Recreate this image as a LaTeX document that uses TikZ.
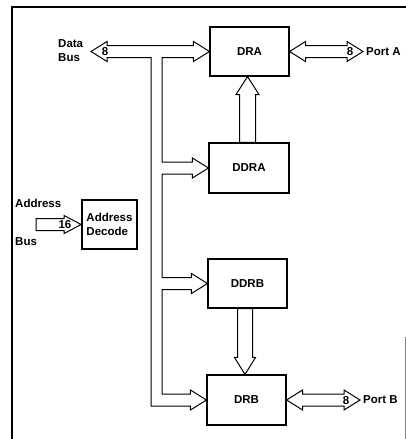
\documentclass[tikz,border=0pt]{standalone}
\usepackage{fontspec}
\setmainfont{Liberation Sans}
\usetikzlibrary{calc}
\begin{document}
\begin{tikzpicture}[x=1pt,y=-1pt,
  font=\bfseries\fontsize{11.5}{14}\selectfont,
  blk/.style={draw, line width=1.1pt, inner sep=0pt, align=center},
  bus/.style={draw, line width=1pt, line join=miter},
  lbl/.style={inner sep=0pt, anchor=west, align=left},
  num/.style={inner sep=0pt}]
\useasboundingbox (0,0) rectangle (406,439);
% frame
\draw[line width=1.4pt] (12,439) -- (12,7) -- (406,7);
\draw[gray, line width=0.6pt] (405.5,337) -- (405.5,439);

% boxes
\node[blk, minimum width=79pt, minimum height=49pt] (dra)  at (249.5,51.5) {DRA};
\node[blk, minimum width=80pt, minimum height=50pt] (ddra) at (249,168) {DDRA};
\node[blk, minimum width=79pt, minimum height=49pt] (ddrb) at (247.5,283.5) {DDRB};
\node[blk, minimum width=79pt, minimum height=50pt] (drb)  at (246.5,400) {DRB};
\node[draw, line width=1.8pt, minimum width=55pt, minimum height=49pt, inner sep=0pt, align=left] (addr) at (109.5,224.5) {Address\\Decode};

% labels
\node[lbl] (dlab) at (58,50.5) {Data\\Bus};
\node[lbl] (alab1) at (15,203) {Address};
\node[lbl] (alab2) at (15,242) {Bus};
\coordinate (pa) at (363,51.5);
\coordinate (pb) at (360,400);
\node[lbl] (porta) at ($(pa)+(3,0.5)$) {Port A};
\node[lbl] (portb) at ($(pb)+(3,0)$) {Port B};

% data bus T
\coordinate (dbus) at (91,51.5);
\coordinate (bi) at (162,0);
\coordinate (bo) at (151,0);
\draw[bus] (dbus) -- ++(16,-10) -- ++(0,4) -- ($(dra.west)+(-16,-6)$) -- ++(0,-4) -- (dra.west) -- ++(-16,10) -- ++(0,-4)
  -- ($(bi |- dra.west)+(0,6)$) -- ($(bi |- ddra.west)+(0,-6)$) -- ($(ddra.west)+(-16,-6)$) -- ++(0,-4) -- (ddra.west) -- ++(-16,10) -- ++(0,-4)
  -- ($(bi |- ddra.west)+(0,6)$) -- ($(bi |- ddrb.west)+(0,-6)$) -- ($(ddrb.west)+(-16,-6)$) -- ++(0,-4) -- (ddrb.west) -- ++(-16,10) -- ++(0,-4)
  -- ($(bi |- ddrb.west)+(0,6)$) -- ($(bi |- drb.west)+(0,-6)$) -- ($(drb.west)+(-16,-6)$) -- ++(0,-4) -- (drb.west) -- ++(-16,10) -- ++(0,-4)
  -- ($(bo |- drb.west)+(0,6)$) -- ($(bo |- dra.west)+(0,6)$) -- ($(dbus)+(16,6)$) -- ++(0,4) -- cycle;
\node[num] (n1) at (105,52) {8};

% port A
\draw[bus] (dra.east) -- ++(16,-10) -- ++(0,4) -- ($(pa)+(-16,-6)$) -- ++(0,-4) -- (pa) -- ++(-16,10) -- ++(0,-4) -- ($(dra.east)+(16,6)$) -- ++(0,4) -- cycle;
\node[num] (n2) at ($(pa)+(-13,0)$) {8};

% port B
\draw[bus] (drb.east) -- ++(16,-10) -- ++(0,4) -- ($(pb)+(-16,-6)$) -- ++(0,-4) -- (pb) -- ++(-16,10) -- ++(0,-4) -- ($(drb.east)+(16,6)$) -- ++(0,4) -- cycle;
\node[num] (n3) at ($(pb)+(-14,1)$) {8};

% address bus
\coordinate (ab) at (36,224.5);
\draw[bus] ($(ab)+(0,-6)$) -- ($(addr.west)+(-17,-6)$) -- ++(0,-3) -- (addr.west) -- ++(-17,9) -- ++(0,-3) -- ($(ab)+(0,6)$) -- cycle;
\node[num] (n4) at (65,224.5) {16};

% DDRA -> DRA
\coordinate (ta) at ($(dra.south)+(-2,0)$);
\draw[bus] (ta) -- ++(11.5,18) -- ++(-3.5,0) -- ($(ta |- ddra.north)+(8,0)$) -- ($(ta |- ddra.north)+(-8,0)$) -- ($(ta)+(-8,18)$) -- ++(-3.5,0) -- cycle;

% DDRB -> DRB
\coordinate (tb) at ($(drb.north)+(-1.5,0)$);
\draw[bus] (tb) -- ++(10.5,-17) -- ++(-3,0) -- ($(tb |- ddrb.south)+(7.5,0)$) -- ($(tb |- ddrb.south)+(-7.5,0)$) -- ($(tb)+(-7.5,-17)$) -- ++(-3,0) -- cycle;
\end{tikzpicture}
\end{document}
